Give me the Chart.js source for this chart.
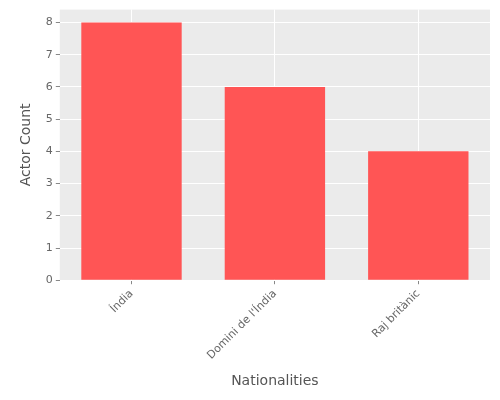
<!DOCTYPE html>
<html><head><meta charset="utf-8">
<script src="https://cdn.jsdelivr.net/npm/chart.js@4"></script>
<style>body{margin:0;background:#fff}#w{width:500px;height:400px}</style>
</head><body><div id="w"><canvas id="c"></canvas></div>
<script>
const categories = ["Índia", "Domini de l'Índia", "Raj britànic"];
const counts = [8, 6, 4];
const bgPlugin = {id:'bg',beforeDraw(ch){const a=ch.chartArea,c=ch.ctx;c.save();c.fillStyle='#EBEBEB';c.fillRect(a.left,a.top,a.right-a.left,a.bottom-a.top);c.restore();}};
new Chart(document.getElementById('c'),{
 type:'bar',
 data:{labels:categories,datasets:[{data:counts,backgroundColor:'#FF5555',barPercentage:0.7,categoryPercentage:1}]},
 plugins:[bgPlugin],
 options:{responsive:true,maintainAspectRatio:false,animation:false,
  layout:{padding:{top:8,right:10,left:14,bottom:6}},
  plugins:{legend:{display:false},tooltip:{enabled:false}},
  scales:{
   x:{grid:{color:'#fff',offset:false,tickColor:'#888',tickLength:4},border:{display:false},
      ticks:{color:'#666',font:{family:'DejaVu Sans',size:11},maxRotation:45,minRotation:45},
      title:{display:true,text:'Nationalities',color:'#555',font:{family:'DejaVu Sans',size:14},padding:{top:8}}},
   y:{min:0,max:8.4,grid:{color:'#fff',tickColor:'#888',tickLength:4},border:{display:false},
      ticks:{stepSize:1,color:'#666',font:{family:'DejaVu Sans',size:11}},
      afterBuildTicks(s){s.ticks=[0,1,2,3,4,5,6,7,8].map(v=>({value:v}));},
      title:{display:true,text:'Actor Count',color:'#555',font:{family:'DejaVu Sans',size:14},padding:{bottom:8}}}
  }}
});
</script></body></html>
